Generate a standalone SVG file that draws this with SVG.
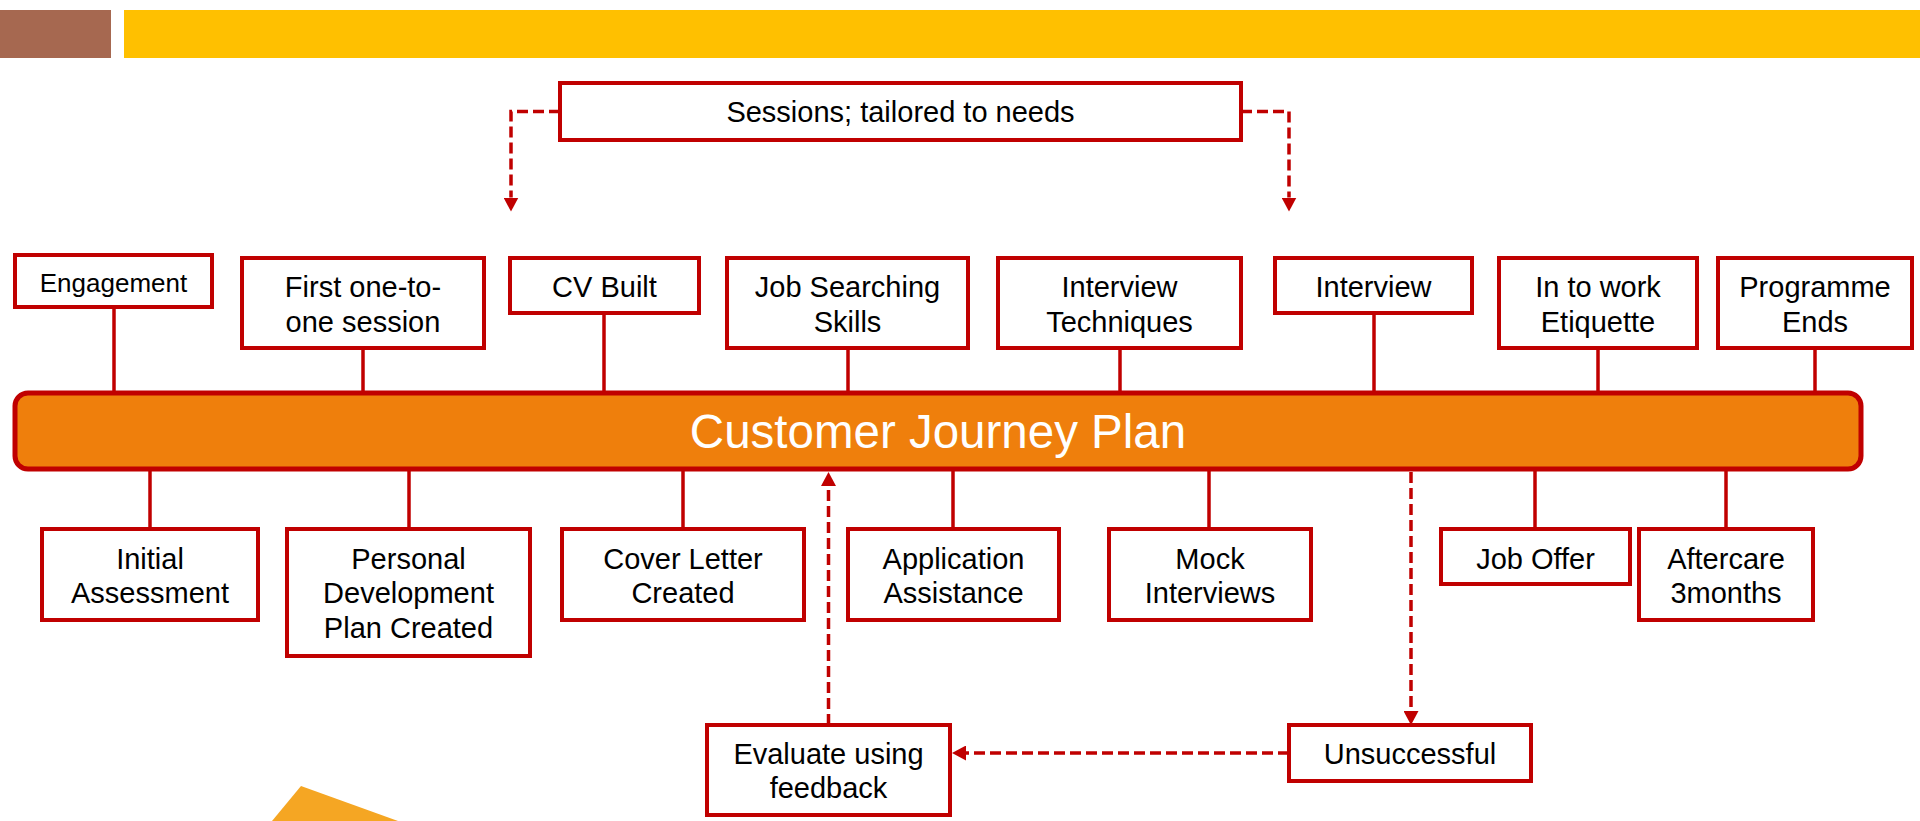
<svg xmlns="http://www.w3.org/2000/svg" width="1920" height="821" viewBox="0 0 1920 821">
  <defs>
    <marker id="arrow" viewBox="0 0 14 15" refX="0" refY="7.5" markerWidth="14" markerHeight="15" markerUnits="userSpaceOnUse" orient="auto">
      <path d="M0,0 L14,7.5 L0,15 z" fill="#C00000"/>
    </marker>
    <style>
      .box { fill: #FFFFFF; stroke: #C00000; stroke-width: 4; }
      .lbl { font-family: "Liberation Sans", Arial, sans-serif; font-size: 29px; fill: #000000; text-anchor: middle; }
      .tie { stroke: #C00000; stroke-width: 3.5; fill: none; }
      .dash { stroke: #C00000; stroke-width: 3.5; fill: none; stroke-dasharray: 11 5; marker-end: url(#arrow); }
      .plan { fill: #EF7F0C; stroke: #C00000; stroke-width: 5; }
      .plan-lbl { font-family: "Liberation Sans", Arial, sans-serif; font-size: 47.5px; fill: #FFFFFF; text-anchor: middle; }
    </style>
  </defs>

  <rect width="1920" height="821" fill="#FFFFFF"/>

  <!-- header bands -->
  <rect x="0" y="10" width="111" height="48" fill="#A66850"/>
  <rect x="124" y="10" width="1796" height="48" fill="#FFC000"/>

  <!-- partial logo corner, bottom left -->
  <polygon points="301,786 272,821 398,821" fill="#F5A623"/>

  <!-- ties between the plan bar and each stage -->
  <g id="ties">
    <line class="tie" x1="114" y1="307" x2="114" y2="393"/>
    <line class="tie" x1="363" y1="348" x2="363" y2="393"/>
    <line class="tie" x1="604" y1="313" x2="604" y2="393"/>
    <line class="tie" x1="848" y1="348" x2="848" y2="393"/>
    <line class="tie" x1="1120" y1="348" x2="1120" y2="393"/>
    <line class="tie" x1="1374" y1="313" x2="1374" y2="393"/>
    <line class="tie" x1="1598" y1="348" x2="1598" y2="393"/>
    <line class="tie" x1="1815" y1="348" x2="1815" y2="393"/>
    <line class="tie" x1="150" y1="469" x2="150" y2="529"/>
    <line class="tie" x1="409" y1="469" x2="409" y2="529"/>
    <line class="tie" x1="683" y1="469" x2="683" y2="529"/>
    <line class="tie" x1="953" y1="469" x2="953" y2="529"/>
    <line class="tie" x1="1209" y1="469" x2="1209" y2="529"/>
    <line class="tie" x1="1535" y1="469" x2="1535" y2="529"/>
    <line class="tie" x1="1726" y1="469" x2="1726" y2="529"/>
  </g>

  <!-- dashed flow connectors -->
  <g id="connectors">
    <path class="dash" d="M560,111.5 H511 V197.5"/>
    <path class="dash" d="M1241,111.5 H1289 V197.5"/>
    <path class="dash" d="M1411,472 V711"/>
    <path class="dash" d="M1289,753 H966"/>
    <path class="dash" d="M828.5,725 V486"/>
  </g>

  <g id="plan">
    <rect class="plan" x="15" y="393" width="1846" height="76" rx="13" ry="13"/>
    <text class="plan-lbl" x="938" y="448">Customer Journey Plan</text>
  </g>

  <g id="sessions">
    <rect class="box" x="560" y="83" width="681" height="57"/>
    <text class="lbl" x="900.5" y="122">Sessions; tailored to needs</text>
  </g>

  <!-- stages above the bar -->
  <g id="engagement">
    <rect class="box" x="15" y="255" width="197" height="52"/>
    <text class="lbl" x="113.5" y="291.5" style="font-size:26px">Engagement</text>
  </g>
  <g id="first-session">
    <rect class="box" x="242" y="258" width="242" height="90"/>
    <text class="lbl" x="363" y="297"><tspan x="363">First one-to-</tspan><tspan x="363" dy="34.5">one session</tspan></text>
  </g>
  <g id="cv-built">
    <rect class="box" x="510" y="258" width="189" height="55"/>
    <text class="lbl" x="604.5" y="297">CV Built</text>
  </g>
  <g id="job-searching">
    <rect class="box" x="727" y="258" width="241" height="90"/>
    <text class="lbl" x="847.5" y="297"><tspan x="847.5">Job Searching</tspan><tspan x="847.5" dy="34.5">Skills</tspan></text>
  </g>
  <g id="interview-techniques">
    <rect class="box" x="998" y="258" width="243" height="90"/>
    <text class="lbl" x="1119.5" y="297"><tspan x="1119.5">Interview</tspan><tspan x="1119.5" dy="34.5">Techniques</tspan></text>
  </g>
  <g id="interview">
    <rect class="box" x="1275" y="258" width="197" height="55"/>
    <text class="lbl" x="1373.5" y="297">Interview</text>
  </g>
  <g id="work-etiquette">
    <rect class="box" x="1499" y="258" width="198" height="90"/>
    <text class="lbl" x="1598" y="297"><tspan x="1598">In to work</tspan><tspan x="1598" dy="34.5">Etiquette</tspan></text>
  </g>
  <g id="programme-ends">
    <rect class="box" x="1718" y="258" width="194" height="90"/>
    <text class="lbl" x="1815" y="297"><tspan x="1815">Programme</tspan><tspan x="1815" dy="34.5">Ends</tspan></text>
  </g>

  <!-- stages below the bar -->
  <g id="initial-assessment">
    <rect class="box" x="42" y="529" width="216" height="91"/>
    <text class="lbl" x="150" y="568.5"><tspan x="150">Initial</tspan><tspan x="150" dy="34.5">Assessment</tspan></text>
  </g>
  <g id="development-plan">
    <rect class="box" x="287" y="529" width="243" height="127"/>
    <text class="lbl" x="408.5" y="568.5"><tspan x="408.5">Personal</tspan><tspan x="408.5" dy="34.5">Development</tspan><tspan x="408.5" dy="35">Plan Created</tspan></text>
  </g>
  <g id="cover-letter">
    <rect class="box" x="562" y="529" width="242" height="91"/>
    <text class="lbl" x="683" y="568.5"><tspan x="683">Cover Letter</tspan><tspan x="683" dy="34.5">Created</tspan></text>
  </g>
  <g id="application-assistance">
    <rect class="box" x="848" y="529" width="211" height="91"/>
    <text class="lbl" x="953.5" y="568.5"><tspan x="953.5">Application</tspan><tspan x="953.5" dy="34.5">Assistance</tspan></text>
  </g>
  <g id="mock-interviews">
    <rect class="box" x="1109" y="529" width="202" height="91"/>
    <text class="lbl" x="1210" y="568.5"><tspan x="1210">Mock</tspan><tspan x="1210" dy="34.5">Interviews</tspan></text>
  </g>
  <g id="job-offer">
    <rect class="box" x="1441" y="529" width="189" height="55"/>
    <text class="lbl" x="1535.5" y="568.5">Job Offer</text>
  </g>
  <g id="aftercare">
    <rect class="box" x="1639" y="529" width="174" height="91"/>
    <text class="lbl" x="1726" y="568.5"><tspan x="1726">Aftercare</tspan><tspan x="1726" dy="34.5">3months</tspan></text>
  </g>

  <!-- feedback loop -->
  <g id="evaluate">
    <rect class="box" x="707" y="725" width="243" height="90"/>
    <text class="lbl" x="828.5" y="763.5"><tspan x="828.5">Evaluate using</tspan><tspan x="828.5" dy="34.5">feedback</tspan></text>
  </g>
  <g id="unsuccessful">
    <rect class="box" x="1289" y="725" width="242" height="56"/>
    <text class="lbl" x="1410" y="764">Unsuccessful</text>
  </g>
</svg>
